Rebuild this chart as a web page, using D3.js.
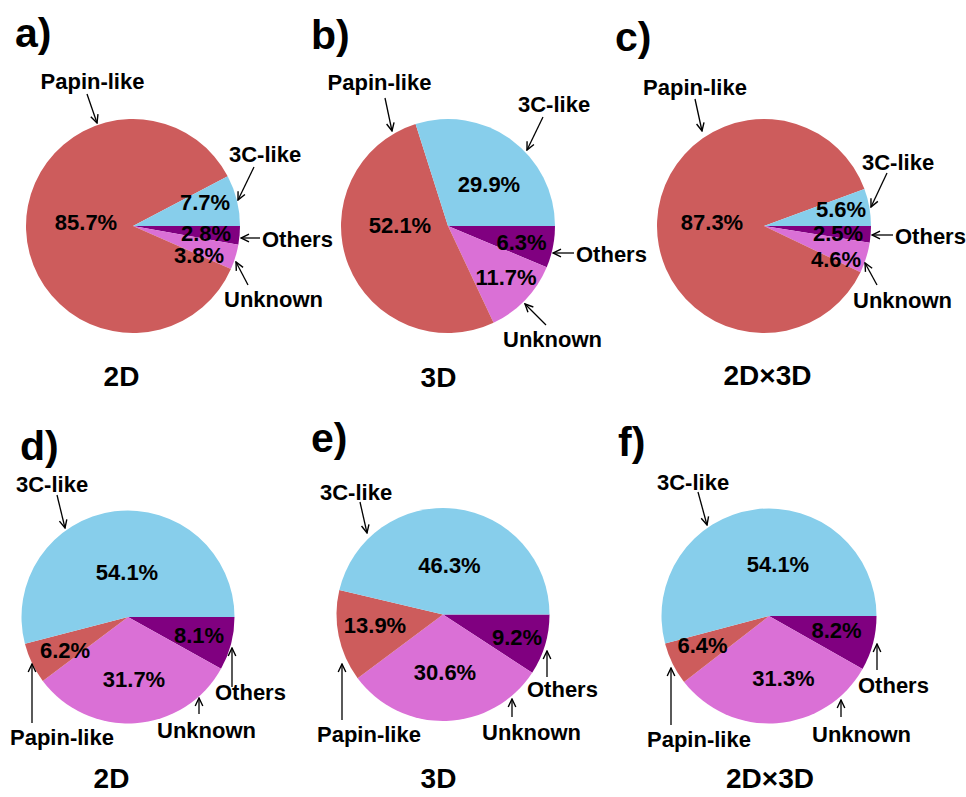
<!DOCTYPE html>
<html>
<head>
<meta charset="utf-8">
<script src="https://cdn.jsdelivr.net/npm/d3@7"></script>
<style>
  html, body { margin: 0; padding: 0; background: #fff; }
  svg text { font-family: "Liberation Sans", Arial, sans-serif; font-weight: bold; fill: #000; }
</style>
</head>
<body>
<svg id="chart" width="966" height="797"></svg>
<script>
// Slice order, clockwise from 3 o'clock
const categories = ["Others", "Unknown", "Papin-like", "3C-like"];
const colors = ["#800080", "#DA70D6", "#CD5C5C", "#87CEEB"];

const panelLetters = ["a)", "b)", "c)", "d)", "e)", "f)"];
const panelTitles = ["2D", "3D", "2D×3D", "2D", "3D", "2D×3D"];

// Percentages per panel, in category order
const valuesA = [2.8, 3.8, 85.7, 7.7];
const valuesB = [6.3, 11.7, 52.1, 29.9];
const valuesC = [2.5, 4.6, 87.3, 5.6];
const valuesD = [8.1, 31.7, 6.2, 54.1];
const valuesE = [9.2, 30.6, 13.9, 46.3];
const valuesF = [8.2, 31.3, 6.4, 54.1];
const panelValues = [valuesA, valuesB, valuesC, valuesD, valuesE, valuesF];

// Page layout: pie centres, letters, titles, value labels and call-outs
const layout = [
  { cx: 133, cy: 226, r: 107, letter: [15, 47], title: [121.5, 386],
    pct: [[206, 241], [199, 263], [86, 230], [205, 210]],
    callouts: [
      { text: [262, 247], anchor: "start", from: [260, 238], to: [241, 238] },
      { text: [224, 307], anchor: "start", from: [248, 285], to: [236, 262] },
      { text: [92.5, 89], anchor: "middle", from: [87, 94], to: [97, 123] },
      { text: [229, 162], anchor: "start", from: [254, 167], to: [238, 200] } ] },
  { cx: 448, cy: 226, r: 107, letter: [311, 49], title: [438.5, 387],
    pct: [[521.5, 250], [506, 285], [400, 233], [489, 192]],
    callouts: [
      { text: [576, 262], anchor: "start", from: [574, 253], to: [553, 253] },
      { text: [503, 347], anchor: "start", from: [546, 325], to: [525, 304] },
      { text: [379.5, 90], anchor: "middle", from: [385, 98], to: [392, 131] },
      { text: [518, 112], anchor: "start", from: [543, 117], to: [527, 150] } ] },
  { cx: 764, cy: 226, r: 107, letter: [615, 51], title: [767.5, 385],
    pct: [[838, 241], [836, 267], [712, 230], [841, 217]],
    callouts: [
      { text: [895, 244], anchor: "start", from: [893, 235], to: [872, 235] },
      { text: [853, 308], anchor: "start", from: [877, 285], to: [865, 263] },
      { text: [695, 95], anchor: "middle", from: [695, 99], to: [702, 131] },
      { text: [862, 170], anchor: "start", from: [887, 173], to: [871, 207] } ] },
  { cx: 128, cy: 617, r: 106.5, letter: [20, 460], title: [111.5, 788],
    pct: [[199, 643], [134, 687], [65, 658], [127, 580]],
    callouts: [
      { text: [215, 700], anchor: "start", from: [232, 687], to: [232, 648] },
      { text: [157, 738], anchor: "start", from: [199, 714], to: [199, 698] },
      { text: [10, 745], anchor: "start", from: [32, 723], to: [32, 664] },
      { text: [16, 492], anchor: "start", from: [57, 495], to: [65, 528] } ] },
  { cx: 443, cy: 614.5, r: 106.5, letter: [311, 452], title: [438.5, 788],
    pct: [[517, 645], [445, 680], [375, 633], [449.5, 573]],
    callouts: [
      { text: [527, 697], anchor: "start", from: [547, 677], to: [547, 651] },
      { text: [482, 740], anchor: "start", from: [512, 717], to: [512, 699] },
      { text: [317, 742], anchor: "start", from: [342, 720], to: [342, 664] },
      { text: [320, 500], anchor: "start", from: [360, 502], to: [367, 533] } ] },
  { cx: 769, cy: 616, r: 107.5, letter: [618, 456], title: [770, 788],
    pct: [[836.5, 638], [783.5, 686], [702.5, 653], [778, 572]],
    callouts: [
      { text: [858, 693], anchor: "start", from: [877, 670], to: [877, 644] },
      { text: [812, 742], anchor: "start", from: [841, 717], to: [841, 700] },
      { text: [647, 747], anchor: "start", from: [671, 725], to: [671, 668] },
      { text: [657, 490], anchor: "start", from: [698, 492], to: [707, 525] } ] }
];

const svg = d3.select("#chart");

svg.append("defs").append("marker")
  .attr("id", "arrowhead")
  .attr("viewBox", "0 0 10 10")
  .attr("refX", 9).attr("refY", 5)
  .attr("markerWidth", 10).attr("markerHeight", 10)
  .attr("markerUnits", "userSpaceOnUse")
  .attr("orient", "auto")
  .append("path")
  .attr("d", "M1,1.2 L9,5 L1,8.8")
  .attr("fill", "none")
  .attr("stroke", "#000")
  .attr("stroke-width", 1.4);

const color = d3.scaleOrdinal().domain(categories).range(colors);

// Pie starts at 3 o'clock and runs clockwise
const pie = d3.pie()
  .sort(null)
  .value(d => d.value)
  .startAngle(Math.PI / 2)
  .endAngle(Math.PI / 2 + 2 * Math.PI);

panelValues.forEach((vals, i) => {
  const L = layout[i];
  const data = categories.map((c, k) => ({ category: c, value: vals[k] }));
  const arcs = pie(data);
  const arc = d3.arc().innerRadius(0).outerRadius(L.r);

  const g = svg.append("g");

  g.append("g")
    .attr("transform", `translate(${L.cx},${L.cy})`)
    .selectAll("path")
    .data(arcs)
    .join("path")
    .attr("d", arc)
    .attr("fill", d => color(d.data.category));

  // value labels
  g.selectAll("text.pct")
    .data(arcs)
    .join("text")
    .attr("class", "pct")
    .attr("x", (d, k) => L.pct[k][0])
    .attr("y", (d, k) => L.pct[k][1])
    .attr("text-anchor", "middle")
    .attr("font-size", 22)
    .text(d => d.data.value.toFixed(1) + "%");

  // category call-outs with arrows
  L.callouts.forEach((co, k) => {
    g.append("line")
      .attr("x1", co.from[0]).attr("y1", co.from[1])
      .attr("x2", co.to[0]).attr("y2", co.to[1])
      .attr("stroke", "#000")
      .attr("stroke-width", 1.3)
      .attr("marker-end", "url(#arrowhead)");
    g.append("text")
      .attr("x", co.text[0]).attr("y", co.text[1])
      .attr("text-anchor", co.anchor)
      .attr("font-size", 22)
      .text(categories[k]);
  });

  g.append("text")
    .attr("x", L.letter[0]).attr("y", L.letter[1])
    .attr("font-size", 41)
    .text(panelLetters[i]);

  g.append("text")
    .attr("x", L.title[0]).attr("y", L.title[1])
    .attr("text-anchor", "middle")
    .attr("font-size", 28)
    .text(panelTitles[i]);
});
</script>
</body>
</html>
